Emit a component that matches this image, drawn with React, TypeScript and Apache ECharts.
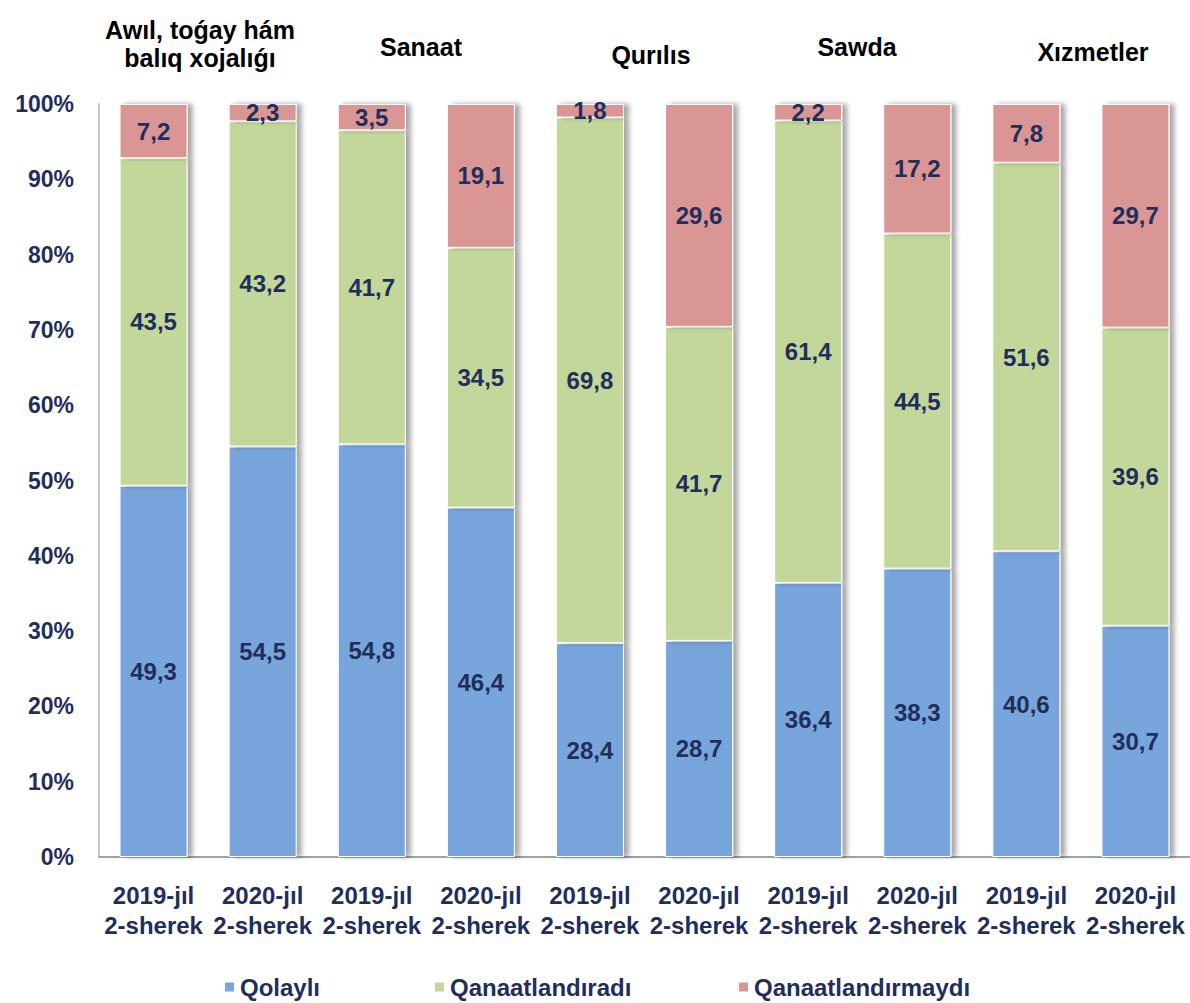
import React, { useEffect, useRef } from "react";
import * as echarts from "echarts";

const categories = [
  "2019-jıl\n2-sherek", "2020-jıl\n2-sherek",
  "2019-jıl\n2-sherek", "2020-jıl\n2-sherek",
  "2019-jıl\n2-sherek", "2020-jıl\n2-sherek",
  "2019-jıl\n2-sherek", "2020-jıl\n2-sherek",
  "2019-jıl\n2-sherek", "2020-jıl\n2-sherek",
];
const qolayli = [49.3, 54.5, 54.8, 46.4, 28.4, 28.7, 36.4, 38.3, 40.6, 30.7];
const qanaatlandiradi = [43.5, 43.2, 41.7, 34.5, 69.8, 41.7, 61.4, 44.5, 51.6, 39.6];
const qanaatlandirmaydi = [7.2, 2.3, 3.5, 19.1, 1.8, 29.6, 2.2, 17.2, 7.8, 29.7];
const seriesNames = ["Qolaylı", "Qanaatlandıradı", "Qanaatlandırmaydı"];
const groupTitles = ["Awıl, toǵay hám\nbalıq xojalıǵı", "Sanaat", "Qurılıs", "Sawda", "Xızmetler"];
const yTicks = [0, 10, 20, 30, 40, 50, 60, 70, 80, 90, 100];

const COLORS = ["#78A5DC", "#C3D79B", "#D99694"];
const NAVY = "#1F2E5B";
const FONT = "'Liberation Sans', Arial, sans-serif";

export default function App() {
  const ref = useRef<HTMLDivElement>(null);
  useEffect(() => {
    if (!ref.current) return;
    const chart = echarts.init(ref.current, null, { renderer: "svg" });
    const seriesData = [qolayli, qanaatlandiradi, qanaatlandirmaydi];
    const titleX = [200, 421, 651, 857, 1093];
    const titleY = [44, 47, 55, 47, 52];
    chart.setOption({
      animation: false,
      textStyle: { fontFamily: FONT },
      grid: { left: 99, top: 104, width: 1100, height: 753 },
      xAxis: {
        type: "category",
        data: categories,
        axisLine: { lineStyle: { color: "#A0A0A0", width: 2 } },
        axisTick: { show: false },
        axisLabel: {
          interval: 0,
          color: NAVY,
          fontSize: 24,
          fontWeight: "bold",
          fontFamily: FONT,
          lineHeight: 30,
          margin: 23,
        },
      },
      yAxis: {
        type: "value",
        min: 0,
        max: 100,
        interval: 10,
        axisLine: { show: true, lineStyle: { color: "#C8C8C8", width: 2 } },
        axisTick: { show: false },
        splitLine: { show: false },
        axisLabel: {
          color: NAVY,
          fontSize: 23,
          fontWeight: "bold",
          fontFamily: FONT,
          margin: 25,
          formatter: (v: number) => (yTicks.includes(v) ? v + "%" : ""),
        },
      },
      legend: seriesNames.map((n, i) => ({
        data: [n],
        left: [218, 428, 732][i],
        top: 970,
        itemWidth: 11,
        itemHeight: 11,
        itemGap: 6,
        icon: "rect",
        textStyle: { color: NAVY, fontSize: 24, fontWeight: "bold", fontFamily: FONT },
      })),
      graphic: groupTitles.map((t, i) => ({
        type: "text",
        x: titleX[i],
        y: titleY[i],
        style: {
          text: t,
          fill: "#000",
          font: `bold 25px ${FONT}`,
          textAlign: "center",
          textVerticalAlign: "middle",
          lineHeight: 28,
        },
      })),
      series: seriesNames.map((n, i) => ({
        name: n,
        type: "bar",
        stack: "total",
        barWidth: 68,
        data: seriesData[i],
        itemStyle: {
          color: COLORS[i],
          borderColor: "#fff",
          borderWidth: 1,
          shadowColor: "rgba(0,0,0,0.35)",
          shadowBlur: 5,
          shadowOffsetX: 5,
        },
        label: {
          show: true,
          position: "inside",
          color: NAVY,
          fontSize: 24,
          fontWeight: "bold",
          fontFamily: FONT,
          formatter: (p: any) => String(p.value).replace(".", ","),
        },
      })),
    });
    return () => chart.dispose();
  }, []);
  return (
    <div
      ref={ref}
      style={{ position: "absolute", left: 0, top: 0, width: 1190, height: 1003, background: "#fff" }}
    />
  );
}
